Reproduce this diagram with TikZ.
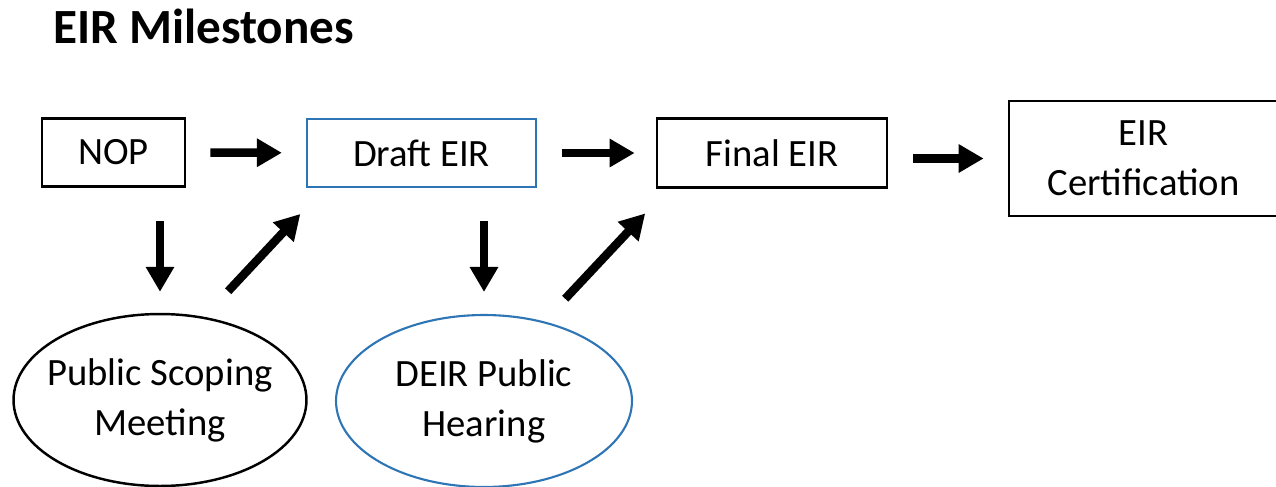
\documentclass[tikz,border=0pt]{standalone}
\usepackage{fontspec}
\setmainfont{Carlito}
\usetikzlibrary{arrows.meta,shapes.geometric}
\definecolor{eirBlue}{HTML}{2E75B6}
\definecolor{eirInk}{HTML}{000000}

\begin{document}
\begin{tikzpicture}[x=0.02cm, y=-0.02cm,
    stage/.style={rectangle, draw=eirInk, line width=1.6pt, minimum height=1.37cm, inner sep=0pt, align=center, font=\fontsize{22}{28.5}\selectfont},
    event/.style={ellipse, draw=eirInk, line width=1.4pt, minimum width=5.86cm, minimum height=3.44cm, inner ysep=0pt, inner xsep=-0.6cm, align=center, font=\fontsize{22}{28.5}\selectfont},
    arrow/.style={-{Triangle[width=0.54cm, length=0.5cm]}, line width=0.17cm, color=eirInk}
]
\useasboundingbox (0,0) rectangle (1276,487);

% Title
\node[anchor=base west, inner sep=0pt, font=\fontsize{28}{34}\selectfont\bfseries] (title) at (53,43) {EIR Milestones};

% Milestones
\node[stage, minimum width=2.86cm] (nop) at (113.5,152.5) {NOP};
\node[stage, minimum width=4.58cm, draw=eirBlue, line width=1.3pt] (draft) at (421.5,153) {Draft EIR};
\node[stage, minimum width=4.6cm] (final) at (772,153) {Final EIR};
\node[stage, minimum width=5.38cm, minimum height=2.3cm] (cert) at (1143.5,158.5) {EIR\\Certification};

% Public events
\node[event] (meet) at (160,400) {Public Scoping\\Meeting};
\node[event, draw=eirBlue, line width=1.2pt, minimum width=5.92cm] (hear) at (484,401) {DEIR Public\\Hearing};

% Connections
\draw[arrow, shorten <=0.48cm, shorten >=0.48cm] (nop) -- (draft);
\draw[arrow, shorten <=0.5cm, shorten >=0.42cm] (draft) -- (final);
\draw[arrow, shorten <=0.5cm, shorten >=0.48cm] (final.east |- cert) -- (cert.west);
\draw[arrow, shorten <=0.66cm, shorten >=0.42cm] (meet.north |- nop.south) -- (meet.north);
\draw[arrow, shorten <=0.66cm, shorten >=0.44cm] (hear.north |- draft.south) -- (hear.north);
\draw[arrow, shorten <=0.7cm, shorten >=0.7cm] (meet.62) -- (draft.200);
\draw[arrow, shorten <=0.62cm, shorten >=0.68cm] (hear.53) -- (final.199);

\end{tikzpicture}
\end{document}
